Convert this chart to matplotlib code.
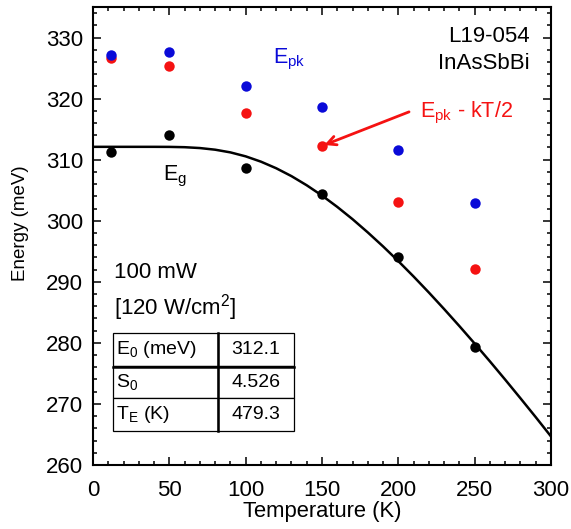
import numpy as np
import matplotlib
matplotlib.use("Agg")
from matplotlib import pyplot as plt
from matplotlib.ticker import MultipleLocator

plt.rcParams['font.family'] = ['Liberation Sans', 'DejaVu Sans']
plt.rcParams['mathtext.default'] = 'regular'

# measured points
temps = [12, 50, 100, 150, 200, 250]
e_pk = [327.2, 327.6, 322.0, 318.6, 311.6, 302.9]
e_pk_kt = [326.6, 325.4, 317.7, 312.2, 303.1, 292.1]
e_g = [311.3, 314.1, 308.7, 304.3, 294.1, 279.4]

# fitted Eg curve
fit_t = [0, 10, 20, 30, 40, 50, 60, 70, 80, 90, 100, 110, 120, 130, 140, 150,
         160, 170, 180, 190, 200, 210, 220, 230, 240, 250, 260, 270, 280, 290, 300]
fit_e = [312.10, 312.10, 312.10, 312.10, 312.10, 312.09, 312.04, 311.90, 311.63,
         311.19, 310.54, 309.67, 308.59, 307.30, 305.80, 304.12, 302.26, 300.25,
         298.08, 295.79, 293.38, 290.86, 288.24, 285.53, 282.74, 279.88, 276.96,
         273.97, 270.92, 267.83, 264.67]

# fit parameters table
param_names = ['E$_0$ (meV)', 'S$_0$', 'T$_E$ (K)']
param_values = ['312.1', '4.526', '479.3']

blue = '#0a0ad8'
red = '#f51212'
fs = 16

fig = plt.figure(figsize=(5.71, 5.29), dpi=100)
ax = fig.add_axes([0.1629, 0.121, 0.8021, 0.8658])

ax.plot(fit_t, fit_e, color='black', lw=1.8, zorder=2)
ax.plot(temps, e_pk_kt, 'o', color=red, ms=7.5, mec='none', zorder=3)
ax.plot(temps, e_pk, 'o', color=blue, ms=7.5, mec='none', zorder=4)
ax.plot(temps, e_g, 'o', color='black', ms=7.5, mec='none', zorder=5)

ax.set_xlim(0, 300)
ax.set_ylim(260, 335)
ax.xaxis.set_major_locator(MultipleLocator(50))
ax.xaxis.set_minor_locator(MultipleLocator(10))
ax.yaxis.set_major_locator(MultipleLocator(10))
ax.yaxis.set_minor_locator(MultipleLocator(2))
ax.tick_params(which='both', direction='in', top=True, right=True, width=1.1)
ax.tick_params(which='major', length=5.5)
ax.tick_params(which='minor', length=3)
ax.tick_params(axis='x', labelsize=fs, pad=11)
ax.tick_params(axis='y', labelsize=fs, pad=7)
for s in ax.spines.values():
    s.set_linewidth(1.5)

ax.set_xlabel('Temperature (K)', fontsize=15.8, labelpad=0)
ax.set_ylabel('Energy (meV)', fontsize=13.5)
ax.yaxis.set_label_coords(-0.14, 0.529)

# annotations
ax.text(0.954, 0.935, 'L19-054', transform=ax.transAxes, ha='right', va='center', fontsize=fs)
ax.text(0.954, 0.876, 'InAsSbBi', transform=ax.transAxes, ha='right', va='center', fontsize=fs)
ax.text(0.392, 0.885, 'E$_{pk}$', transform=ax.transAxes, ha='left', va='center',
        fontsize=15.5, color=blue)
ax.text(0.713, 0.768, 'E$_{pk}$ - kT/2', transform=ax.transAxes, ha='left', va='center',
        fontsize=15.5, color=red)
ax.annotate('', xy=(temps[3] + 1.5, e_pk_kt[3] + 0.2), xytext=(0.69, 0.771),
            textcoords='axes fraction',
            arrowprops=dict(arrowstyle='->', color=red, lw=2, mutation_scale=16,
                            shrinkA=0, shrinkB=0))
ax.text(0.153, 0.63, 'E$_g$', transform=ax.transAxes, ha='left', va='center', fontsize=15.5)
ax.text(0.045, 0.42, '100 mW', transform=ax.transAxes, ha='left', va='center', fontsize=fs)
ax.text(0.045, 0.344, '[120 W/cm$^2$]', transform=ax.transAxes, ha='left', va='center', fontsize=fs)

# parameter table
tab = ax.table(cellText=[[n, v] for n, v in zip(param_names, param_values)],
               colWidths=[0.229, 0.167], cellLoc='left',
               bbox=[0.0428, 0.074, 0.396, 0.214])
tab.auto_set_font_size(False)
for (r, c), cell in tab.get_celld().items():
    cell.set_linewidth(0.9)
    cell.set_text_props(fontsize=14)
    if c == 1:
        cell.set_text_props(ha='center')
        cell._loc = 'center'
    else:
        cell.PAD = 0.03
# thicker inner dividers
ax.plot([0.2726, 0.2726], [0.074, 0.288], color='black', lw=1.8, transform=ax.transAxes,
        clip_on=False, zorder=10)
ax.plot([0.0428, 0.4388], [0.213, 0.213], color='black', lw=1.8, transform=ax.transAxes,
        clip_on=False, zorder=10)

fig.savefig('out.png', dpi=100)
